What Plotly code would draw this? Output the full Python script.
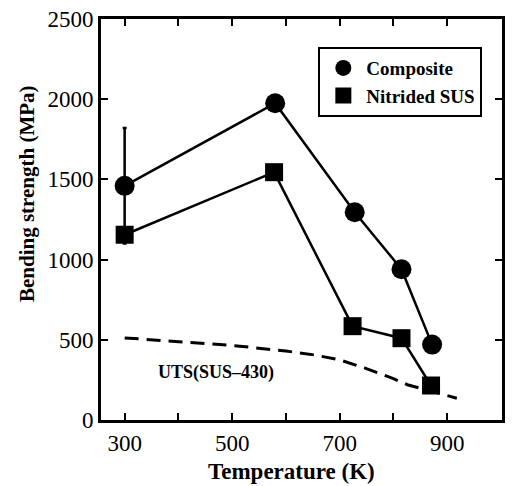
import plotly.graph_objects as go

temp_comp = [300, 580, 728, 815, 872]
strength_comp = [1460, 1975, 1295, 940, 470]
err_comp = [360, 0, 0, 0, 0]

temp_nit = [300, 578, 724, 815, 870]
strength_nit = [1155, 1545, 585, 510, 215]

temp_uts = [300, 400, 500, 600, 654, 700, 746, 800, 826, 870, 918]
strength_uts = [512, 490, 465, 430, 405, 375, 325, 258, 220, 180, 136]

x_ticks = [300, 400, 500, 600, 700, 800, 900]
x_ticktext = ["300", "", "500", "", "700", "", "900"]
y_ticks = [0, 500, 1000, 1500, 2000, 2500]

serif = "Liberation Serif"

fig = go.Figure()
fig.add_trace(go.Scatter(
    x=temp_uts, y=strength_uts, mode="lines", showlegend=False,
    line=dict(color="black", width=3, dash="14px,8px"),
))
fig.add_trace(go.Scatter(
    x=temp_comp, y=strength_comp, mode="lines+markers", showlegend=False,
    line=dict(color="black", width=2.5),
    marker=dict(symbol="circle", size=20, color="black"),
    error_y=dict(type="data", array=err_comp, visible=True, color="black",
                 thickness=2.5, width=2),
))
fig.add_trace(go.Scatter(
    x=temp_nit, y=strength_nit, mode="lines+markers", showlegend=False,
    line=dict(color="black", width=2.5),
    marker=dict(symbol="square", size=18, color="black"),
))
# legend entries (markers only)
fig.add_trace(go.Scatter(
    x=[None], y=[None], mode="markers", name="<b>Composite</b>",
    marker=dict(symbol="circle", size=20, color="black"),
))
fig.add_trace(go.Scatter(
    x=[None], y=[None], mode="markers", name="<b>Nitrided SUS</b>",
    marker=dict(symbol="square", size=18, color="black"),
))

fig.add_annotation(x=470, y=296, xref="x", yref="y", text="<b>UTS(SUS\u2013430)</b>",
                   showarrow=False, font=dict(family=serif, size=18, color="black"))
fig.add_annotation(x=-0.183, y=0.565, xref="paper", yref="paper", textangle=-90,
                   xanchor="center", yanchor="middle",
                   text="<b>Bending strength (MPa)</b>", showarrow=False,
                   font=dict(family=serif, size=21, color="black"))
fig.add_annotation(x=0.475, y=-0.128, xref="paper", yref="paper",
                   xanchor="center", yanchor="middle",
                   text="<b>Temperature (K)</b>", showarrow=False,
                   font=dict(family=serif, size=23, color="black"))

fig.update_layout(
    width=512, height=486,
    margin=dict(l=101, r=7, t=15, b=66),
    paper_bgcolor="white", plot_bgcolor="white",
    font=dict(family=serif, color="black"),
    legend=dict(x=0.542, y=0.93, xanchor="left", yanchor="top",
                bordercolor="black", borderwidth=2, bgcolor="white",
                font=dict(family=serif, size=19, color="black"),
                tracegroupgap=7, itemwidth=36),
    xaxis=dict(range=[256, 1002], tickvals=x_ticks, ticktext=x_ticktext,
               ticks="inside", ticklen=7, tickwidth=2, tickcolor="black",
               showline=True, linewidth=3, linecolor="black", mirror="ticks",
               showgrid=False, zeroline=False,
               tickfont=dict(family=serif, size=23, color="black")),
    yaxis=dict(range=[0, 2500], tickvals=y_ticks,
               ticks="inside", ticklen=7, tickwidth=2, tickcolor="black",
               showline=True, linewidth=3, linecolor="black", mirror="ticks",
               showgrid=False, zeroline=False,
               tickfont=dict(family=serif, size=23, color="black")),
)

fig.write_html("out.html")
